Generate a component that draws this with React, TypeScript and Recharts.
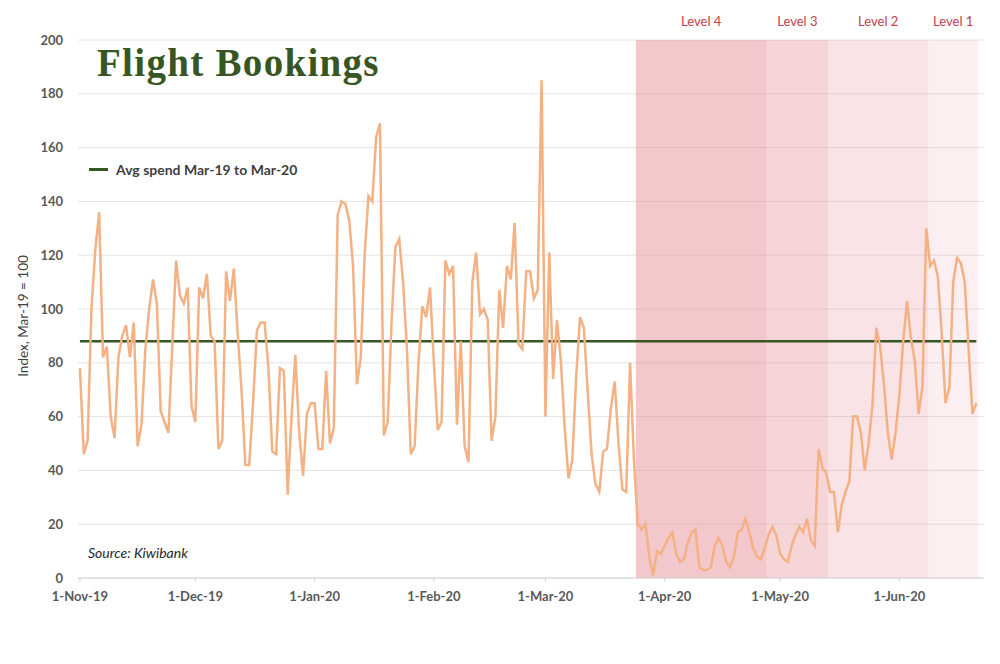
import React from 'react';
import {
  LineChart,
  Line,
  XAxis,
  YAxis,
  CartesianGrid,
  ReferenceArea,
  ReferenceLine,
} from 'recharts';

// daily index, 1-Nov-19 (day 0) to 21-Jun-20
const bookings: number[] = [
  // Nov-19
  78, 46, 51, 100, 122, 136, 82, 86, 60, 52,
  82, 90, 94, 82, 95, 49, 57, 85, 100, 111,
  102, 62, 58, 54, 86, 118, 105, 102, 108, 64,
  // Dec-19
  58, 108, 104, 113, 90, 88, 48, 51, 114, 103,
  115, 91, 70, 42, 42, 65, 92, 95, 95, 78,
  47, 46, 78, 77, 31, 60, 83, 54, 38, 61,
  65,
  // Jan-20
  65, 48, 48, 77, 50, 56, 135, 140, 139, 133,
  116, 72, 82, 120, 142, 140, 164, 169, 53, 58,
  95, 123, 126, 110, 85, 46, 49, 80, 101, 97,
  108,
  // Feb-20
  80, 55, 58, 118, 113, 116, 57, 88, 49, 43,
  110, 121, 98, 100, 96, 51, 60, 107, 93, 116,
  111, 132, 87, 85, 114, 114, 104, 107, 185,
  // Mar-20
  60, 121, 74, 96, 81, 56, 37, 44, 75, 97,
  93, 69, 46, 35, 32, 47, 48, 63, 73, 50,
  33, 32, 80, 44, 20, 18, 20, 8, 1, 10,
  9,
  // Apr-20
  12, 15, 17, 9, 6, 7, 13, 17, 18, 4,
  3, 3, 4, 12, 15, 12, 6, 4, 8, 17,
  18, 22, 17, 11, 8, 7, 11, 16, 19, 16,
  // May-20
  9, 7, 6, 12, 16, 19, 17, 22, 14, 12,
  48, 41, 39, 32, 32, 17, 27, 32, 36, 60,
  60, 54, 40, 50, 64, 93, 86, 72, 54, 44,
  54,
  // Jun-20
  68, 88, 103, 89, 81, 61, 71, 130, 116, 118,
  112, 91, 65, 71, 110, 119, 117, 110, 85, 61,
  65,
];

const AVG_SPEND = 88;

const tickDays = [0, 30, 61, 92, 121, 152, 182, 213];
const tickLabels = ['1-Nov-19', '1-Dec-19', '1-Jan-20', '1-Feb-20', '1-Mar-20', '1-Apr-20', '1-May-20', '1-Jun-20'];

const yTicks = [0, 20, 40, 60, 80, 100, 120, 140, 160, 180, 200];

// alert levels: start / end day index
const levelNames = ['Level 4', 'Level 3', 'Level 2', 'Level 1'];
const levelStarts = [144.5, 178.5, 194.5, 220.5];
const levelEnds = [178.5, 194.5, 220.5, 233.5];
const levelOpacity = [0.5, 0.38, 0.25, 0.14];

const chartData = bookings.map((v, i) => ({ day: i, index: v }));

const FONT = 'Lato, "Open Sans", sans-serif';

export default function App() {
  return (
    <div style={{ position: 'absolute', left: 0, top: 0, width: 1000, height: 664, background: '#fff' }}>
      <LineChart width={1000} height={664} data={chartData} margin={{ top: 40, right: 16, bottom: 0, left: 0 }}>
        <CartesianGrid stroke="#e4e4e4" vertical={false} />
        {levelNames.map((name, i) => (
          <ReferenceArea
            key={name}
            x1={levelStarts[i]}
            x2={levelEnds[i]}
            y1={0}
            y2={200}
            fill="#e7919b"
            fillOpacity={levelOpacity[i]}
            stroke="none"
            ifOverflow="visible"
            label={{ value: name, position: 'top', offset: 14, fill: '#c0424c', fontSize: 13, fontFamily: FONT }}
          />
        ))}
        <XAxis
          dataKey="day"
          type="number"
          domain={[-0.5, 235]}
          ticks={tickDays}
          tickFormatter={(d: number) => tickLabels[tickDays.indexOf(d)]}
          height={86}
          stroke="#d4d4d4"
          tickSize={4}
          tickMargin={10}
          tick={{ fill: '#595959', fontSize: 13, fontWeight: 700, fontFamily: FONT }}
        />
        <YAxis
          domain={[0, 200]}
          ticks={yTicks}
          width={78}
          axisLine={false}
          tickLine={false}
          tickMargin={9}
          tick={{ fill: '#595959', fontSize: 13, fontWeight: 700, fontFamily: FONT }}
          label={{
            content: (p: any) => {
              const vb = p.viewBox;
              const cx = vb.x + 25;
              const cy = vb.y + vb.height / 2 + 7;
              return (
                <text x={cx} y={cy} transform={`rotate(-90 ${cx} ${cy})`} textAnchor="middle" dominantBaseline="middle" fill="#404040" fontSize={13.5} fontFamily={FONT}>
                  Index, Mar-19 = 100
                </text>
              );
            },
          }}
        />
        <ReferenceLine
          segment={[{ x: 0, y: AVG_SPEND }, { x: bookings.length - 1, y: AVG_SPEND }]}
          stroke="#375623"
          strokeWidth={2.5}
        />
        <Line
          type="linear"
          dataKey="index"
          stroke="#f4b183"
          strokeWidth={2.5}
          dot={false}
          isAnimationActive={false}
        />
      </LineChart>
      <div style={{ position: 'absolute', left: 97, top: 40, fontFamily: '"Liberation Serif", serif', fontWeight: 700, fontSize: 39, letterSpacing: 1.3, color: '#375623' }}>
        Flight Bookings
      </div>
      <div style={{ position: 'absolute', left: 89, top: 161, display: 'flex', alignItems: 'center', fontFamily: FONT, fontSize: 14, fontWeight: 700, color: '#3f3f3f' }}>
        <span style={{ display: 'inline-block', width: 19, height: 2.5, background: '#375623', marginRight: 8 }} />
        Avg spend Mar-19 to Mar-20
      </div>
      <div style={{ position: 'absolute', left: 88, top: 544, fontFamily: FONT, fontStyle: 'italic', fontSize: 14, color: '#262626' }}>
        Source: Kiwibank
      </div>
    </div>
  );
}
